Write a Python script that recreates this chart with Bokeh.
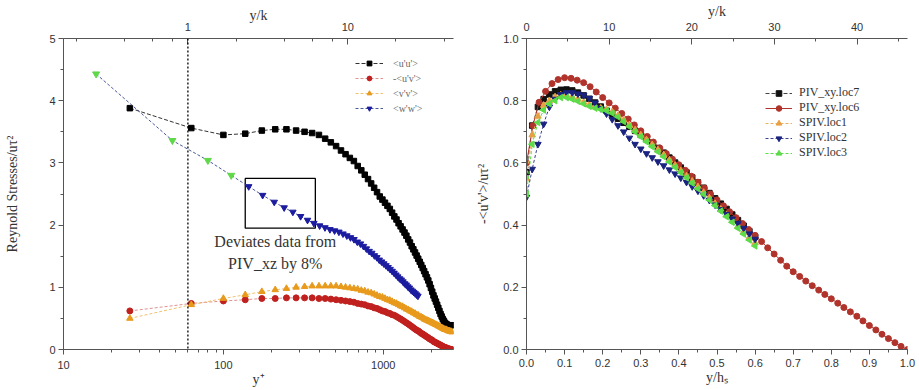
import numpy as np
from bokeh.plotting import figure
from bokeh.models import (Range1d, LogScale, LogAxis, LinearAxis, LogTicker,
                          SingleIntervalTicker, CustomJSTickFormatter, Span,
                          Legend, LegendItem)
from bokeh.layouts import row
from bokeh.embed import file_html
from bokeh.resources import INLINE
from bokeh.core.properties import value

# ---------------- data: left panel (Reynolds stresses vs y+) ----------------
KPLUS = 60.0          # y+ at y/k = 1
YPLUS = [26, 63, 100, 137, 174, 211, 248, 285, 322, 359,
         396, 433, 470, 507, 544, 581, 618, 655, 692, 729,
         766, 803, 840, 877, 914, 951, 988, 1025, 1062, 1099,
         1136, 1173, 1210, 1247, 1284, 1321, 1358, 1395, 1432, 1469,
         1506, 1543, 1580, 1617, 1654, 1691, 1728, 1765, 1802, 1839,
         1876, 1913, 1950, 1987, 2024, 2061, 2098, 2135, 2172, 2209,
         2246, 2283, 2320, 2357, 2394, 2431, 2468, 2505, 2542, 2579,
         2616, 2653, 2690]
UU = [3.88, 3.56, 3.45, 3.47, 3.52, 3.54, 3.54, 3.52, 3.50, 3.48,
      3.45, 3.39, 3.33, 3.27, 3.20, 3.14, 3.08, 3.03, 2.95, 2.88,
      2.81, 2.74, 2.67, 2.60, 2.53, 2.46, 2.41, 2.36, 2.31, 2.26,
      2.20, 2.14, 2.09, 2.03, 1.98, 1.93, 1.88, 1.83, 1.77, 1.72,
      1.66, 1.61, 1.56, 1.51, 1.46, 1.41, 1.36, 1.31, 1.26, 1.21,
      1.16, 1.11, 1.05, 0.99, 0.93, 0.87, 0.82, 0.77, 0.72, 0.67,
      0.62, 0.57, 0.53, 0.49, 0.46, 0.43, 0.41, 0.40, 0.39, 0.39,
      0.39, 0.39, 0.39]
UV = [0.62, 0.74, 0.78, 0.80, 0.82, 0.82, 0.83, 0.83, 0.83, 0.83,
      0.82, 0.82, 0.81, 0.80, 0.79, 0.78, 0.77, 0.76, 0.74, 0.73,
      0.72, 0.70, 0.69, 0.67, 0.66, 0.64, 0.62, 0.61, 0.59, 0.58,
      0.56, 0.55, 0.53, 0.51, 0.49, 0.47, 0.45, 0.43, 0.41, 0.39,
      0.37, 0.35, 0.33, 0.31, 0.30, 0.28, 0.26, 0.25, 0.23, 0.22,
      0.20, 0.19, 0.17, 0.16, 0.15, 0.13, 0.12, 0.11, 0.10, 0.09,
      0.08, 0.07, 0.06, 0.05, 0.04, 0.035, 0.03, 0.02, 0.015, 0.01,
      0.005, 0.0, 0.0]
VV = [0.50, 0.72, 0.82, 0.88, 0.93, 0.96, 0.98, 1.00, 1.01, 1.02,
      1.02, 1.02, 1.02, 1.02, 1.01, 1.00, 0.99, 0.98, 0.97, 0.95,
      0.94, 0.92, 0.91, 0.89, 0.87, 0.85, 0.84, 0.82, 0.80, 0.79,
      0.77, 0.75, 0.74, 0.72, 0.70, 0.69, 0.67, 0.65, 0.64, 0.62,
      0.61, 0.59, 0.58, 0.56, 0.55, 0.53, 0.52, 0.51, 0.49, 0.48,
      0.47, 0.46, 0.45, 0.44, 0.43, 0.42, 0.41, 0.40, 0.39, 0.38,
      0.37, 0.36, 0.35, 0.34, 0.33, 0.32, 0.32, 0.31, 0.30, 0.30,
      0.29, 0.29, 0.28]
YPLUS_W = [16, 48, 80, 112, 144, 176, 208, 240, 272, 304,
           336, 368, 400, 432, 464, 496, 528, 560, 592, 624,
           656, 688, 720, 752, 784, 816, 848, 880, 912, 944,
           976, 1008, 1040, 1072, 1104, 1136, 1168, 1200, 1232, 1264,
           1296, 1328, 1360, 1392, 1424, 1456, 1488, 1520, 1552, 1584,
           1616, 1648]
WW = [4.43, 3.36, 3.04, 2.80, 2.62, 2.48, 2.37, 2.28, 2.21, 2.14,
      2.08, 2.03, 1.99, 1.96, 1.93, 1.91, 1.89, 1.86, 1.83, 1.80,
      1.77, 1.73, 1.70, 1.66, 1.62, 1.58, 1.55, 1.51, 1.48, 1.44,
      1.41, 1.38, 1.35, 1.32, 1.29, 1.26, 1.23, 1.20, 1.17, 1.14,
      1.12, 1.09, 1.06, 1.04, 1.01, 0.99, 0.96, 0.94, 0.92, 0.90,
      0.88, 0.86]
N_GREEN_W = 4   # first points of <w'w'> drawn in green
LEFT_LABELS = ["<u'u'>", "-<u'v'>", "<v'v'>", "<w'w'>"]
BOX = dict(left=137, right=376, bottom=1.95, top=2.75)
NOTE_X = [211, 211]
NOTE_Y = [1.73, 1.39]
NOTE_TEXT = ["Deviates data from", "PIV_xz by 8%"]

# ---------------- data: right panel (-<u'v'> vs y/hs) ----------------
HS_OVER_K = 46.1
X_LOC6 = [0.0, 0.017, 0.033, 0.05, 0.067, 0.083, 0.1, 0.117, 0.133, 0.15,
          0.167, 0.183, 0.2, 0.217, 0.233, 0.25, 0.267, 0.283, 0.3, 0.317,
          0.333, 0.35, 0.367, 0.383, 0.4, 0.417, 0.433, 0.45, 0.467, 0.483,
          0.5, 0.517, 0.533, 0.55, 0.567, 0.583, 0.6, 0.617, 0.633, 0.65,
          0.667, 0.683, 0.7, 0.717, 0.733, 0.75, 0.767, 0.783, 0.8, 0.817,
          0.833, 0.85, 0.867, 0.883, 0.9, 0.917, 0.933, 0.95, 0.967, 0.983,
          1.0]
LOC6 = [0.60, 0.72, 0.795, 0.83, 0.855, 0.868, 0.874, 0.872, 0.866, 0.858,
        0.845, 0.828, 0.810, 0.793, 0.776, 0.759, 0.741, 0.722, 0.703, 0.685,
        0.667, 0.648, 0.630, 0.612, 0.594, 0.576, 0.557, 0.538, 0.519, 0.500,
        0.481, 0.462, 0.443, 0.424, 0.405, 0.386, 0.367, 0.347, 0.327, 0.307,
        0.287, 0.268, 0.250, 0.235, 0.220, 0.205, 0.191, 0.177, 0.163, 0.149,
        0.135, 0.121, 0.107, 0.092, 0.077, 0.063, 0.049, 0.035, 0.022, 0.010,
        0.000]
X_SHORT = [0.0, 0.015, 0.03, 0.045, 0.06, 0.075, 0.09, 0.105, 0.12, 0.135,
           0.15, 0.165, 0.18, 0.195, 0.21, 0.225, 0.24, 0.255, 0.27, 0.285,
           0.3, 0.315, 0.33, 0.345, 0.36, 0.375, 0.39, 0.405, 0.42, 0.435,
           0.45, 0.465, 0.48, 0.495, 0.51, 0.525, 0.54, 0.555, 0.57, 0.585,
           0.6]
LOC7 = [0.57, 0.72, 0.78, 0.805, 0.82, 0.83, 0.835, 0.836, 0.833, 0.826,
        0.817, 0.806, 0.794, 0.781, 0.768, 0.755, 0.742, 0.729, 0.716, 0.703,
        0.690, 0.676, 0.662, 0.648, 0.633, 0.617, 0.601, 0.585, 0.569, 0.553,
        0.537, 0.520, 0.503, 0.486, 0.469, 0.452, 0.434, 0.416, 0.398, 0.380,
        0.362]
SPIV1 = [0.55, 0.69, 0.75, 0.785, 0.80, 0.812, 0.818, 0.818, 0.812, 0.805,
         0.795, 0.787, 0.78, 0.776, 0.772, 0.764, 0.752, 0.738, 0.722, 0.706,
         0.69, 0.674, 0.658, 0.642, 0.626, 0.609, 0.592, 0.575, 0.558, 0.541,
         0.523, 0.505, 0.487, 0.469, 0.451, 0.433, 0.415, 0.397, 0.379, 0.361,
         0.343]
SPIV2 = [0.49, 0.58, 0.66, 0.725, 0.78, 0.805, 0.82, 0.826, 0.826, 0.822,
         0.818, 0.808, 0.793, 0.775, 0.758, 0.74, 0.72, 0.70, 0.68, 0.66,
         0.645, 0.63, 0.617, 0.604, 0.591, 0.578, 0.565, 0.552, 0.538, 0.524,
         0.51, 0.495, 0.48, 0.465, 0.45, 0.435, 0.42, 0.405, 0.39, 0.372,
         0.355]
SPIV3 = [0.50, 0.66, 0.73, 0.77, 0.79, 0.80, 0.81, 0.81, 0.805, 0.798,
         0.79, 0.782, 0.776, 0.772, 0.768, 0.76, 0.748, 0.733, 0.717, 0.70,
         0.684, 0.668, 0.652, 0.636, 0.62, 0.603, 0.586, 0.569, 0.552, 0.535,
         0.517, 0.499, 0.481, 0.463, 0.445, 0.427, 0.409, 0.39, 0.371, 0.352,
         0.333]
RIGHT_LABELS = ["PIV_xy.loc7", "PIV_xy.loc6", "SPIV.loc1", "SPIV.loc2", "SPIV.loc3"]

SERIF = "Liberation Serif"
SANS = "Liberation Sans"
AXC = "#555555"

fmt_log = CustomJSTickFormatter(code="return String(Number(tick.toPrecision(6)));")
fmt_1dp = CustomJSTickFormatter(code="return tick.toFixed(1);")
fmt_int = CustomJSTickFormatter(code="return tick.toFixed(0);")


def style_axis(ax, inward=False, tick_standoff=3, label_standoff=0):
    ax.axis_line_color = AXC
    ax.major_tick_line_color = AXC
    ax.minor_tick_line_color = AXC
    ax.major_label_text_font = SANS
    ax.major_label_text_font_size = "11px"
    ax.major_label_text_color = "#333333"
    ax.axis_label_text_font = SERIF
    ax.axis_label_text_font_size = "14px"
    ax.axis_label_text_font_style = "normal"
    ax.axis_label_text_color = "#333333"
    ax.major_label_standoff = tick_standoff
    ax.axis_label_standoff = label_standoff
    if inward:
        ax.major_tick_in, ax.major_tick_out = 6, 0
        ax.minor_tick_in, ax.minor_tick_out = 3, 0
    else:
        ax.major_tick_in, ax.major_tick_out = 0, 5
        ax.minor_tick_in, ax.minor_tick_out = 0, 3


# ---------------- left figure ----------------
p1 = figure(width=470, height=390, x_axis_type="log",
            x_range=Range1d(10, 2750), y_range=Range1d(0, 5),
            output_backend="svg", toolbar_location=None, title_location=None,
            min_border_left=63, min_border_right=17,
            min_border_top=38, min_border_bottom=41)
p1.outline_line_color = None
p1.xgrid.visible = False
p1.ygrid.visible = False

p1.xaxis.formatter = fmt_log
p1.xaxis.axis_label = "y\u207a"
p1.yaxis.axis_label = "Reynold Stresses/u\u03c4\u00b2"
p1.yaxis.ticker = SingleIntervalTicker(interval=1, num_minor_ticks=2)
p1.yaxis.formatter = fmt_int
style_axis(p1.xaxis[0], tick_standoff=6, label_standoff=0)
style_axis(p1.yaxis[0], label_standoff=26)

p1.extra_x_ranges = {"yk": Range1d(10 / KPLUS, 2750 / KPLUS)}
p1.extra_x_scales = {"yk": LogScale()}
top1 = LogAxis(x_range_name="yk", axis_label="y/k", ticker=LogTicker(), formatter=fmt_log)
style_axis(top1, inward=True, tick_standoff=8, label_standoff=-3)
p1.add_layout(top1, "above")

p1.add_layout(Span(location=KPLUS, dimension="height", line_color="black",
                   line_dash="2 2", line_width=1.3))

p1.quad(left=[BOX["left"]], right=[BOX["right"]], bottom=[BOX["bottom"]], top=[BOX["top"]],
        fill_alpha=0, line_color="black", line_width=1.3)
p1.text(x=NOTE_X, y=NOTE_Y, text=NOTE_TEXT, text_align="center", text_baseline="middle",
        text_font=value(SERIF), text_font_size="16px", text_color="#333333")

items = []
l = p1.line(YPLUS, UU, line_color="#333333", line_dash="4 2", line_width=1)
s = p1.scatter(YPLUS, UU, marker="square", size=5.5, color="black")
items.append(LegendItem(label=LEFT_LABELS[0], renderers=[l, s]))
l = p1.line(YPLUS, UV, line_color="#e09090", line_dash="3 2", line_width=1)
s = p1.scatter(YPLUS, UV, marker="circle", size=6, color="#c0201e")
items.append(LegendItem(label=LEFT_LABELS[1], renderers=[l, s]))
l = p1.line(YPLUS, VV, line_color="#f0c070", line_dash="3 2", line_width=1)
s = p1.scatter(YPLUS, VV, marker="triangle", size=6.5, color="#e89a1c")
items.append(LegendItem(label=LEFT_LABELS[2], renderers=[l, s]))
l = p1.line(YPLUS_W, WW, line_color="#4a5a9a", line_dash="3 2", line_width=1)
s = p1.scatter(YPLUS_W[N_GREEN_W:], WW[N_GREEN_W:], marker="inverted_triangle", size=6.5, color="#1c1ca0")
p1.scatter(YPLUS_W[:N_GREEN_W], WW[:N_GREEN_W], marker="inverted_triangle", size=7, color="#5fd84a")
items.append(LegendItem(label=LEFT_LABELS[3], renderers=[l, s]))

leg1 = Legend(items=items, location=(292, 235), border_line_color=None,
              background_fill_alpha=0, padding=0, margin=0, spacing=3,
              label_height=12, glyph_height=12, glyph_width=28, label_standoff=10,
              label_text_font=SERIF, label_text_font_size="10px", label_text_color="#666666")
p1.add_layout(leg1)

# ---------------- right figure ----------------
p2 = figure(width=449, height=390, x_range=Range1d(0, 1), y_range=Range1d(0, 1),
            output_backend="svg", toolbar_location=None, title_location=None,
            min_border_left=56, min_border_right=12,
            min_border_top=38, min_border_bottom=41)
p2.outline_line_color = None
p2.xgrid.visible = False
p2.ygrid.visible = False
p2.xaxis.ticker = SingleIntervalTicker(interval=0.1, num_minor_ticks=2)
p2.yaxis.ticker = SingleIntervalTicker(interval=0.2, num_minor_ticks=2)
p2.xaxis.formatter = fmt_1dp
p2.yaxis.formatter = fmt_1dp
p2.xaxis.axis_label = "y/h\u209b"
p2.yaxis.axis_label = "-<u'v'>/u\u03c4\u00b2"
style_axis(p2.xaxis[0], tick_standoff=4, label_standoff=0)
style_axis(p2.yaxis[0], label_standoff=9)

p2.extra_x_ranges = {"yk": Range1d(0, HS_OVER_K)}
top2 = LinearAxis(x_range_name="yk", axis_label="y/k",
                  ticker=SingleIntervalTicker(interval=10, num_minor_ticks=2),
                  formatter=fmt_int)
style_axis(top2, inward=True, tick_standoff=8, label_standoff=1)
p2.add_layout(top2, "above")

items2 = []
specs = [
    (X_SHORT, LOC7, "square", "#111111", "#444444", "4 2", 0, 5.5),
    (X_LOC6, LOC6, "circle", "#b0342c", "#b0342c", "solid", 0, 6),
    (X_SHORT, SPIV1, "triangle", "#e8a040", "#e8b060", "3 2", 0, 6.5),
    (X_SHORT, SPIV2, "inverted_triangle", "#1a2380", "#3a4390", "3 2", 0, 6.5),
    (X_SHORT, SPIV3, "triangle", "#5cdc48", "#5cdc48", "3 2", np.pi / 2, 6.5),
]
for (xs, ys, mk, col, lcol, dash, ang, sz), lab in zip(specs, RIGHT_LABELS):
    l = p2.line(xs, ys, line_color=lcol, line_dash=dash, line_width=1)
    s = p2.scatter(xs, ys, marker=mk, size=sz, color=col, angle=ang)
    items2.append(LegendItem(label=lab, renderers=[l, s]))

leg2 = Legend(items=items2, location=(239, 189), border_line_color=None,
              background_fill_alpha=0, padding=0, margin=0, spacing=0,
              label_height=14, glyph_height=14, glyph_width=27, label_standoff=7,
              label_text_font=SERIF, label_text_font_size="12px", label_text_color="#333333")
p2.add_layout(leg2)

layout = row(p1, p2)
open("out.html", "w").write(file_html(layout, INLINE))
